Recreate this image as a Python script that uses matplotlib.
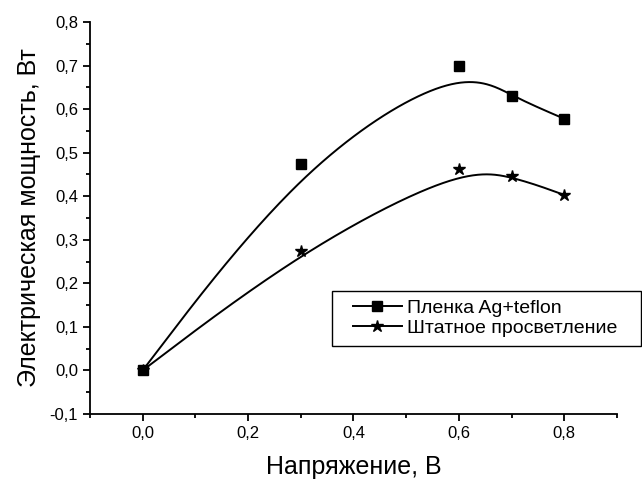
import numpy as np
import matplotlib.pyplot as plt
from matplotlib.patches import Rectangle
from matplotlib.ticker import MultipleLocator, FuncFormatter

plt.rcParams['font.family'] = ['Liberation Sans', 'DejaVu Sans']

# данные
voltage = [0.0, 0.3, 0.6, 0.7, 0.8]
power_ag = [0.0, 0.475, 0.70, 0.63, 0.578]
power_std = [0.0, 0.275, 0.463, 0.447, 0.403]
labels = ['Пленка Ag+teflon', 'Штатное просветление']


# равномерный кубический B-сплайн, точки данных = контрольные (концы утроены)
def bspline(px, py, n=60):
    q = np.column_stack([px, py])
    q = np.vstack([q[:1], q[:1], q, q[-1:], q[-1:]])
    t = np.linspace(0, 1, n)
    b = np.column_stack([(1 - t) ** 3,
                         3 * t ** 3 - 6 * t ** 2 + 4,
                         -3 * t ** 3 + 3 * t ** 2 + 3 * t + 1,
                         t ** 3]) / 6
    pts = [b @ q[i:i + 4] for i in range(len(q) - 3)]
    pts = np.vstack(pts)
    return pts[:, 0], pts[:, 1]


fig = plt.figure(figsize=(6.42, 4.8), dpi=100)
ax = fig.add_axes([0.140, 0.1375, 0.821, 0.8165])

for ys, mk, ms, lab in [(power_ag, 's', 7, labels[0]), (power_std, '*', 9, labels[1])]:
    cx, cy = bspline(voltage, ys)
    ax.plot(cx, cy, color='black', lw=1.4)
    ax.plot(voltage, ys, ls='none', marker=mk, ms=ms, color='black')
    ax.plot([], [], color='black', lw=1.4, marker=mk, ms=ms, label=lab)

ax.set_xlim(-0.1, 0.9)
ax.set_ylim(-0.1, 0.8)
ax.xaxis.set_major_locator(MultipleLocator(0.2))
ax.xaxis.set_minor_locator(MultipleLocator(0.1))
ax.yaxis.set_major_locator(MultipleLocator(0.1))
ax.yaxis.set_minor_locator(MultipleLocator(0.05))
fmt = FuncFormatter(lambda v, p: f'{v:.1f}'.replace('.', ',').replace('-0,0', '0,0'))
ax.xaxis.set_major_formatter(fmt)
ax.yaxis.set_major_formatter(fmt)
ax.set_xticks([0, 0.2, 0.4, 0.6, 0.8])

for s in ['top', 'right']:
    ax.spines[s].set_visible(False)
for s in ['left', 'bottom']:
    ax.spines[s].set_linewidth(1.3)
ax.tick_params(which='major', direction='out', length=5, width=1.3, labelsize=12)
ax.tick_params(which='minor', direction='out', length=3, width=1.3)

ax.set_xlabel('Напряжение, В', fontsize=18, labelpad=10)
ax.set_ylabel('Электрическая мощность, Вт', fontsize=18, labelpad=6)

# рамка легенды (шире, чем даёт legend)
ax.add_patch(Rectangle((0.459, 0.1735), 0.586, 0.1403, transform=ax.transAxes,
                       fill=False, edgecolor='black', lw=1.0, clip_on=False))
ax.legend(loc='center left', bbox_to_anchor=(0.499, 0.245), fontsize=14,
          frameon=False, handlelength=2.5, handletextpad=0.3,
          labelspacing=0.15, borderpad=0, borderaxespad=0)

fig.savefig('out.png', dpi=100)
